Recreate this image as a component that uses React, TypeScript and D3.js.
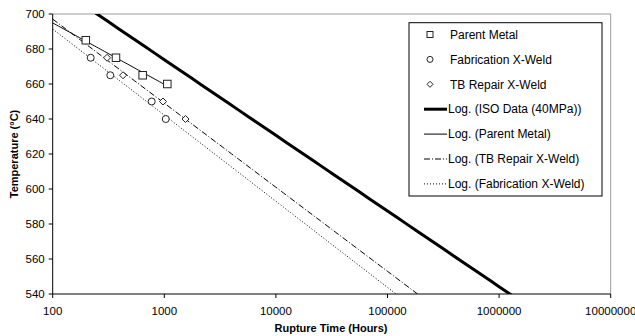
import React from "react";
import * as d3 from "d3";

// Data
const parentTimes = [198, 369, 640, 1064];
const parentTemps = [685, 675, 665, 660];
const fabTimes = [219, 328, 771, 1031];
const fabTemps = [675, 665, 650, 640];
const tbTimes = [307, 427, 973, 1549];
const tbTemps = [675, 665, 650, 640];
// ISO (40MPa) log trend line, read at its ends
const isoTimes = [249, 1250000];
const isoTemps = [700, 540];

const xTicks = [100, 1000, 10000, 100000, 1000000, 10000000];
const yTicks = [540, 560, 580, 600, 620, 640, 660, 680, 700];

const W = 635;
const H = 336;
const left = 52.7;
const right = 610.7;
const top = 14;
const bottom = 294;

const FONT = "Liberation Sans, Arial, sans-serif";

function logFit(times: number[], temps: number[]) {
  const xs = times.map((t) => Math.log10(t));
  const mx = d3.mean(xs) as number;
  const my = d3.mean(temps) as number;
  let sxy = 0;
  let sxx = 0;
  xs.forEach((x, i) => {
    sxy += (x - mx) * (temps[i] - my);
    sxx += (x - mx) * (x - mx);
  });
  const slope = sxy / sxx;
  return (t: number) => my + slope * (Math.log10(t) - mx);
}

export default function App() {
  const x = d3.scaleLog().domain([100, 10000000]).range([left, right]);
  const y = d3.scaleLinear().domain([540, 700]).range([bottom, top]);

  const line = d3
    .line<[number, number]>()
    .x((d) => x(d[0]))
    .y((d) => y(d[1]));

  const sample = (f: (t: number) => number, t0: number, t1: number) => {
    const pts: [number, number][] = [];
    const n = 60;
    for (let i = 0; i <= n; i++) {
      const lt = Math.log10(t0) + ((Math.log10(t1) - Math.log10(t0)) * i) / n;
      const t = Math.pow(10, lt);
      pts.push([t, f(t)]);
    }
    return pts;
  };

  const parentFit = logFit(parentTimes, parentTemps);
  const fabFit = logFit(fabTimes, fabTemps);
  const tbFit = logFit(tbTimes, tbTemps);
  const isoFit = logFit(isoTimes, isoTemps);

  const parentPath = line(sample(parentFit, 100, parentTimes[parentTimes.length - 1]))!;
  const fabPath = line(sample(fabFit, 100, 1000000))!;
  const tbPath = line(sample(tbFit, 100, 1000000))!;
  const isoPath = line(sample(isoFit, 100, 10000000))!;

  const fmt = (v: number) => String(v);

  const legendItems = [
    { label: "Parent Metal", kind: "square" },
    { label: "Fabrication X-Weld", kind: "circle" },
    { label: "TB Repair X-Weld", kind: "diamond" },
    { label: "Log. (ISO Data (40MPa))", kind: "thick" },
    { label: "Log. (Parent Metal)", kind: "solid" },
    { label: "Log. (TB Repair X-Weld)", kind: "dashdot" },
    { label: "Log. (Fabrication X-Weld)", kind: "dotted" },
  ];
  const legX = 409;
  const legY = 22.7;
  const legW = 193;
  const legH = 173.3;
  const rowY = (i: number) => 34.5 + i * 24.9;

  const square = (cx: number, cy: number, s: number, k: string) => (
    <rect key={k} x={cx - s / 2} y={cy - s / 2} width={s} height={s} fill="white" stroke="#222" strokeWidth={1} />
  );
  const circle = (cx: number, cy: number, r: number, k: string) => (
    <circle key={k} cx={cx} cy={cy} r={r} fill="white" stroke="#222" strokeWidth={1} />
  );
  const diamond = (cx: number, cy: number, s: number, k: string) => (
    <path
      key={k}
      d={`M${cx},${cy - s}L${cx + s},${cy}L${cx},${cy + s}L${cx - s},${cy}Z`}
      fill="white"
      stroke="#222"
      strokeWidth={1}
    />
  );

  return (
    <svg
      width={W}
      height={H}
      style={{ position: "absolute", left: 0, top: 0, background: "white" }}
      fontFamily={FONT}
    >
      <defs>
        <clipPath id="plotclip">
          <rect x={left} y={top} width={right - left} height={bottom - top} />
        </clipPath>
      </defs>
      <rect x={0} y={0} width={W} height={H} fill="white" />

      {/* plot area border (gray top & right) */}
      <line x1={left} x2={right} y1={top} y2={top} stroke="#9a9a9a" strokeWidth={1} />
      <line x1={right} x2={right} y1={top} y2={bottom} stroke="#9a9a9a" strokeWidth={1} />

      {/* trend lines */}
      <g clipPath="url(#plotclip)" fill="none">
        <path d={isoPath} stroke="#000" strokeWidth={3} />
        <path d={parentPath} stroke="#000" strokeWidth={1} />
        <path d={tbPath} stroke="#000" strokeWidth={1} strokeDasharray="6,2,1,2" />
        <path d={fabPath} stroke="#000" strokeWidth={1} strokeDasharray="1,2" />
      </g>

      {/* markers */}
      <g>
        {parentTimes.map((t, i) => square(x(t), y(parentTemps[i]), 7.5, "p" + i))}
        {fabTimes.map((t, i) => circle(x(t), y(fabTemps[i]), 3.5, "f" + i))}
        {tbTimes.map((t, i) => diamond(x(t), y(tbTemps[i]), 3.5, "t" + i))}
      </g>

      {/* axes */}
      <line x1={left} x2={left} y1={top} y2={bottom} stroke="#000" strokeWidth={1} />
      <line x1={left} x2={right} y1={bottom} y2={bottom} stroke="#000" strokeWidth={1} />
      {yTicks.map((v) => (
        <g key={"y" + v}>
          <line x1={left - 4} x2={left} y1={y(v)} y2={y(v)} stroke="#000" />
          <text x={left - 8} y={y(v)} dy="0.35em" textAnchor="end" fontSize={11.5} fill="#000">
            {fmt(v)}
          </text>
        </g>
      ))}
      {xTicks.map((v) => (
        <g key={"x" + v}>
          <line x1={x(v)} x2={x(v)} y1={bottom} y2={bottom + 4} stroke="#000" />
          <text x={x(v)} y={314.5} textAnchor="middle" fontSize={11.5} fill="#000">
            {fmt(v)}
          </text>
        </g>
      ))}

      <text x={331} y={332} textAnchor="middle" fontSize={11} fontWeight="bold" fill="#000">
        Rupture Time (Hours)
      </text>
      <text
        transform={`translate(18,${(top + bottom) / 2}) rotate(-90)`}
        textAnchor="middle"
        fontSize={11}
        fontWeight="bold"
        fill="#000"
      >
        Temperature (°C)
      </text>

      {/* legend */}
      <rect x={legX} y={legY} width={legW} height={legH} fill="white" stroke="#000" strokeWidth={1} />
      {legendItems.map((it, i) => {
        const cy = rowY(i);
        let sym: React.ReactNode = null;
        if (it.kind === "square") sym = square(430, cy, 6, "ls");
        else if (it.kind === "circle") sym = circle(430, cy, 3, "lc");
        else if (it.kind === "diamond") sym = diamond(430, cy, 3, "ld");
        else {
          const dash =
            it.kind === "dashdot" ? "6,2,1,2" : it.kind === "dotted" ? "1,2" : undefined;
          sym = (
            <line
              x1={424}
              x2={447}
              y1={cy}
              y2={cy}
              stroke="#000"
              strokeWidth={it.kind === "thick" ? 3 : 1}
              strokeDasharray={dash}
            />
          );
        }
        return (
          <g key={"leg" + i}>
            {sym}
            <text
              x={it.kind === "square" || it.kind === "circle" || it.kind === "diamond" ? 450 : 448}
              y={cy}
              dy="0.35em"
              fontSize={12}
              fill="#000"
            >
              {it.label}
            </text>
          </g>
        );
      })}
    </svg>
  );
}
